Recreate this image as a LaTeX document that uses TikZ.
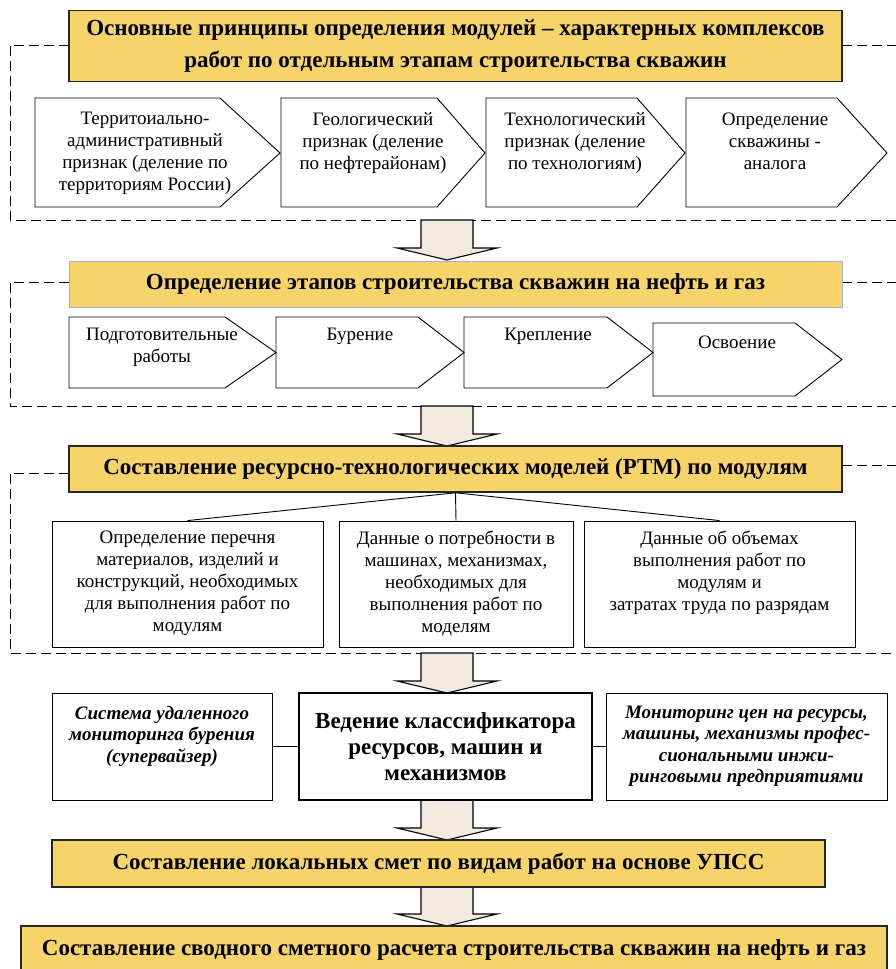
\documentclass[tikz,border=0pt]{standalone}
\usepackage{fontspec}
\setmainfont{Liberation Serif}
\definecolor{yel}{HTML}{F6D46A}
\definecolor{beige}{HTML}{F2EADF}
\definecolor{bluish}{HTML}{9DB4D6}
\begin{document}
\begin{tikzpicture}[x=1pt,y=-1pt,line width=0.9pt,
    ybox/.style={draw=black!85,line width=1.6pt,fill=yel,minimum height=46,inner sep=0pt,align=center,font=\bfseries\fontsize{23}{32}\selectfont},
    wbox/.style={draw,inner sep=0pt},
    txt/.style={inner sep=0pt,align=center,font=\fontsize{19}{22}\selectfont},
    itxt/.style={txt,font=\bfseries\itshape\fontsize{19}{21.5}\selectfont},
    frame/.style={dash pattern=on 10pt off 5pt},
    barrow/.style={draw,fill=beige,line width=1.1pt}]
    \useasboundingbox(0,0)rectangle(896,969);
    \draw[frame](69,45)--(10,45)--(10,220)--(900,220);\draw[frame](842,45)--(900,45);
    \draw[frame](69,282)--(10,282)--(10,406)--(900,406);\draw[frame](842,282)--(900,282);
    \draw[frame](69,473)--(10,473)--(10,653)--(900,653);\draw[frame](842,465)--(900,465);
    \foreach \a/\b in{220/260,406/446,653/693,800/840,887/926}
        \draw[barrow](421,\a)--(473,\a)--(473,\b-12)--(497,\b-12)--(447,\b)--(397,\b-12)--(421,\b-12)--cycle;
    \foreach \a/\b/\c in{35/220/280,281/437/485,486/637/685,686/837/887}
        \draw(\a,98)--(\b,98)--(\c,153)--(\b,207)--(\a,207)--cycle;
    \foreach \a/\b/\c/\t/\u in{69/225/276/317/388,276/418/464/317/388,464/607/653/317/388,653/795/842/323/396}
        \draw(\a,\t)--(\b,\t)--(\c,{(\t+\u)/2})--(\b,\u)--(\a,\u)--cycle;
    \node[txt,anchor=north](p1) at(145,112){Территоиально-\\административный\\признак (деление по\\территориям России)};
    \node[txt,anchor=north](p2) at(373,112){Геологический\\признак (деление\\по нефтерайонам)};
    \node[txt,anchor=north](p3) at(575,112){Технологический\\признак (деление\\по технологиям)};
    \node[txt,anchor=north](p4) at(775,112){Определение\\скважины -\\аналога};
    \node[txt,anchor=north](s1) at(162,328){Подготовительные\\работы};
    \node[txt,anchor=north](s2) at(360,328){Бурение};
    \node[txt,anchor=north](s3) at(548,328){Крепление};
    \node[txt,anchor=north](s4) at(737,335){Освоение};
    \node[ybox,minimum width=773,minimum height=71](osn) at(455.5,46){Основные принципы определения модулей -- характерных комплексов\\работ по отдельным этапам строительства скважин};
    \node[ybox,draw=bluish,line width=1pt,minimum width=773](etap) at(455.5,284){Определение этапов строительства скважин на нефть и газ};
    \node[ybox,minimum width=773](rtm) at(455.5,469){Составление ресурсно-технологических моделей (РТМ) по модулям};
    \node[wbox,minimum width=271,minimum height=126](m1) at(187.5,584){};
    \node[wbox,minimum width=234,minimum height=126](m2) at(456,584){};
    \node[wbox,minimum width=271,minimum height=126](m3) at(719.5,584){};
    \node[txt,anchor=north](m1t) at([yshift=-10pt]m1.north){Определение перечня\\материалов, изделий и\\конструкций, необходимых\\для выполнения работ по\\модулям};
    \node[txt,anchor=north](m2t) at([yshift=-10pt]m2.north){Данные о потребности в\\машинах, механизмах,\\необходимых для\\выполнения работ по\\моделям};
    \node[txt,anchor=north](m3t) at([yshift=-10pt]m3.north){Данные об объемах\\выполнения работ по\\модулям и\\затратах труда по разрядам};
    \draw(rtm.south)--(m1.north);\draw(rtm.south)--(m2.north);\draw(rtm.south)--(m3.north);
    \node[wbox,minimum width=220,minimum height=107](sys) at(162,746.5){};
    \node[wbox,line width=1.3pt,minimum width=293,minimum height=107,align=center,font=\bfseries\fontsize{23}{26}\selectfont](klass) at(445.5,746.5){Ведение классификатора\\ресурсов, машин и\\механизмов};
    \node[wbox,minimum width=281,minimum height=107](mon) at(746.5,746.5){};
    \node[itxt,anchor=north](syst) at([yshift=-13pt]sys.north){Система удаленного\\мониторинга бурения\\(супервайзер)};
    \node[itxt,anchor=north](mont) at([yshift=-13pt]mon.north){Мониторинг цен на ресурсы,\\машины, механизмы профес-\\сиональными инжи-\\ринговыми предприятиями};
    \draw(sys)--(klass);\draw(klass)--(mon);
    \node[ybox,minimum width=773,minimum height=47](smeta) at(438.5,863.5){Составление локальных смет по видам работ на основе УПСС};
    \node[ybox,minimum width=866,minimum height=48](svod) at(454,950){Составление сводного сметного расчета строительства скважин на нефть и газ};
\end{tikzpicture}
\end{document}
